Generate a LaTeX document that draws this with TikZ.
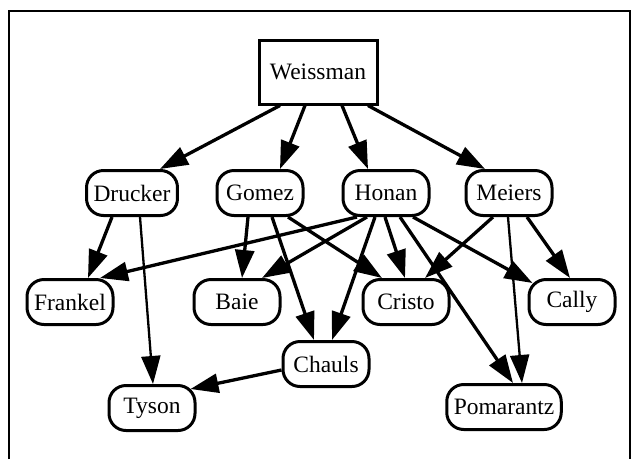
\documentclass[tikz,border=0pt]{standalone}
\usepackage{fontspec}
\setmainfont{Liberation Serif}
\usetikzlibrary{arrows.meta,calc}
\begin{document}
\begin{tikzpicture}[x=1pt,y=-1pt,
  every node/.style={font=\fontsize{23.5}{28}\selectfont},
  person/.style={draw,line width=3pt,rounded corners=17pt,minimum width=86pt,minimum height=45pt,inner xsep=7pt,inner ysep=0pt},
  boss/.style={draw,line width=3pt,minimum width=118pt,minimum height=64pt},
  link/.style={line width=3.3pt,-{Triangle[length=28pt,width=19pt]}},
  thinlink/.style={line width=2.3pt,-{Triangle[length=28pt,width=19pt]}},
  frame/.style={line width=2.4pt}]
\useasboundingbox (0,0) rectangle (632,459);
\coordinate (fbl) at (9,459);
\coordinate (ftl) at (9,11);
\coordinate (ftr) at (630,11);
\coordinate (fbr) at (630,459);
\draw[frame] (fbl) -- (ftl) -- (ftr) -- (fbr);

\node[boss] (W) at (318,72) {Weissman};
\node[person] (D) at (132,193) {Drucker};
\node[person] (G) at (260,193) {Gomez};
\node[person] (H) at (386,193) {Honan};
\node[person] (M) at (509,193) {Meiers};
\node[person] (F) at (70,302) {Frankel};
\node[person] (B) at (237,302) {Baie};
\node[person] (Cr) at (406,302) {Cristo};
\node[person] (Ca) at (572,302) {Cally};
\node[person] (Ch) at (326,364) {Chauls};
\node[person] (T) at (152,408) {Tyson};
\node[person] (P) at (504,407) {Pomarantz};

% Weissman
\draw[link] ($(W.south)+(-38,0)$) -- ($(D.north)+(28,0)$);
\draw[link] ($(W.south)+(-13,0)$) -- ($(G.north)+(20,0)$);
\draw[link] ($(W.south)+(24,0)$) -- ($(H.north)+(-18,0)$);
\draw[link] ($(W.south)+(50,0)$) -- ($(M.north)+(-24,0)$);
% Drucker
\draw[link] ($(D.south)+(-20,0)$) -- ($(F.north)+(18,0)$);
\draw[thinlink] ($(D.south)+(8,0)$) -- ($(T.north)+(1,0)$);
% Gomez
\draw[link] ($(G.south)+(-12,0)$) -- ($(B.north)+(5,0)$);
\draw[link] ($(G.south)+(12,0)$) -- ($(Ch.north)+(-12,0)$);
\draw[link] ($(G.south)+(28,0)$) -- ($(Cr.north)+(-24,0)$);
% Honan
\draw[link] ($(H.south)+(-29,0)$) -- ($(F.north)+(30,0)$);
\draw[link] ($(H.south)+(-19,0)$) -- ($(B.north)+(25,0)$);
\draw[link] ($(H.south)+(-11,0)$) -- ($(Ch.north)+(6,0)$);
\draw[link] ($(H.south)+(-1,0)$) -- ($(Cr.north)+(-1,0)$);
\draw[link] ($(H.south)+(14,0)$) -- ($(P.north)+(9,0)$);
\draw[link] ($(H.south)+(27,0)$) -- ($(Ca.north west)+(5,5)$);
% Meiers
\draw[link] ($(M.south)+(-16,0)$) -- ($(Cr.north)+(19,0)$);
\draw[thinlink] ($(M.south)+(-1,0)$) -- ($(P.north)+(18,0)$);
\draw[link] ($(M.south)+(18,0)$) -- ($(Ca.north)+(-2,0)$);
% Chauls
\draw[link] ($(Ch.west)+(0,6)$) -- ($(T.north east)+(-6,5)$);
\end{tikzpicture}
\end{document}
